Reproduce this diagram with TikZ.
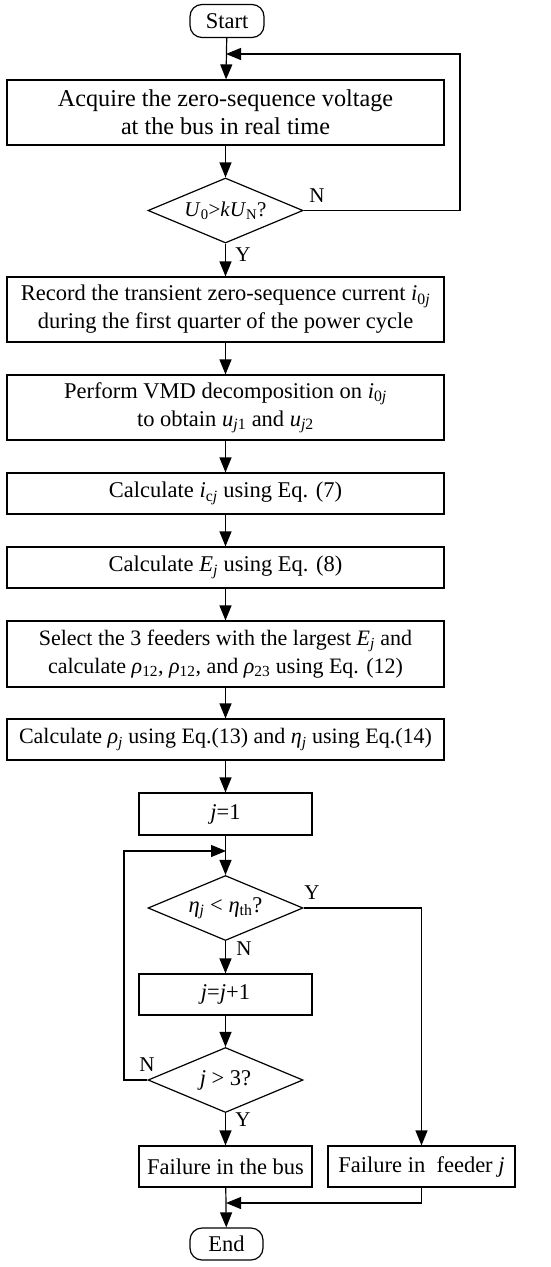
\documentclass[tikz,border=0pt]{standalone}
\usepackage{fontspec}
\setmainfont{Liberation Serif}
\usetikzlibrary{shapes.geometric,arrows.meta}
\newcommand\sbs[1]{\textsubscript{#1}}
\begin{document}
\begin{tikzpicture}[x=1pt,y=-1pt,
  every node/.style={font=\fontsize{22.5}{28}\selectfont},
  procbox/.style={draw,line width=1.2pt,rectangle,inner sep=0pt,align=center},
  termbox/.style={draw,line width=1.2pt,rectangle,rounded corners=12pt,inner sep=0pt,minimum width=74pt,minimum height=33pt},
  decide/.style={draw,line width=1.2pt,diamond,aspect=2.4,inner sep=0pt,minimum width=155pt,minimum height=65pt},
  lbl/.style={font=\fontsize{21}{24}\selectfont,inner sep=0pt},
  arr/.style={line width=1.2pt,-{Triangle[length=15pt,width=12pt]}},
  ln/.style={line width=1.2pt}]
\useasboundingbox (0,0) rectangle (550,1267);
\node[termbox] (start) at (227,21) {Start};
\node[procbox,minimum width=437pt,minimum height=65pt,font=\fontsize{24.2}{28}\selectfont] (b1) at (225.5,112.5) {Acquire the zero-sequence voltage\\at the bus in real time};
\node[decide,font=\fontsize{21}{26}\selectfont] (d1) at (225.5,210.5) {\textit{U}\sbs{0}>\textit{kU}\sbs{N}?};
\node[procbox,minimum width=437pt,minimum height=65pt] (b2) at (225.5,309.5) {Record the transient zero-sequence current \textit{i}\sbs{0\textit{j}}\\during the first quarter of the power cycle};
\node[procbox,minimum width=437pt,minimum height=65pt] (b3) at (225.5,407.5) {Perform VMD decomposition on \textit{i}\sbs{0\textit{j}}\\to obtain \textit{u}\sbs{\textit{j}1} and \textit{u}\sbs{\textit{j}2}};
\node[procbox,minimum width=437pt,minimum height=41pt] (b4) at (225.5,493.5) {Calculate \textit{i}\sbs{c\textit{j}} using Eq. (7)};
\node[procbox,minimum width=437pt,minimum height=41pt] (b5) at (225.5,567.5) {Calculate \textit{E}\sbs{\textit{j}} using Eq. (8)};
\node[procbox,minimum width=437pt,minimum height=66pt,font=\fontsize{22}{28}\selectfont] (b6) at (225.5,654) {Select the 3 feeders with the largest \textit{E}\sbs{\textit{j}} and\\calculate \textit{ρ}\sbs{12}, \textit{ρ}\sbs{12}, and \textit{ρ}\sbs{23} using Eq. (12)};
\node[procbox,minimum width=437pt,minimum height=41pt,font=\fontsize{22}{28}\selectfont] (b7) at (225.5,739.5) {Calculate \textit{ρ}\sbs{\textit{j}} using Eq.(13) and \textit{η}\sbs{\textit{j}} using Eq.(14)};
\node[procbox,minimum width=173pt,minimum height=42pt] (b8) at (225.5,814) {\textit{j}=1};
\node[decide] (d2) at (225.5,908) {\textit{η}\sbs{\textit{j}} < \textit{η}\sbs{th}?};
\node[procbox,minimum width=173pt,minimum height=41pt] (b9) at (225.5,994.5) {\textit{j}=\textit{j}+1};
\node[decide] (d3) at (225.5,1080) {\textit{j} > 3?};
\node[procbox,minimum width=173pt,minimum height=41pt] (bus) at (225.5,1166.5) {Failure in the bus};
\node[procbox,minimum width=187pt,minimum height=41pt] (feed) at (421.5,1166.5) {Failure in\ \ feeder \textit{j}};
\node[termbox,minimum width=73pt,minimum height=32pt] (end) at (226.5,1244) {End};
\coordinate (j1) at (226,54);
\coordinate (r1) at (460,54);
\coordinate (j2) at (226,851);
\coordinate (l2) at (124,851);
\coordinate (j3) at (226,1203);
\draw[arr] (start) -- (b1);
\draw[arr] (d1.east) -| (r1) -- (j1);
\draw[arr] (b1) -- (d1);
\draw[arr] (d1) -- (b2);
\draw[arr] (b2) -- (b3);
\draw[arr] (b3) -- (b4);
\draw[arr] (b4) -- (b5);
\draw[arr] (b5) -- (b6);
\draw[arr] (b6) -- (b7);
\draw[arr] (b7) -- (b8);
\draw[arr] (b8) -- (d2);
\draw[arr] (d3.west) -| (l2) -- (j2);
\draw[arr] (d2.east) -| (feed.north);
\draw[arr] (d2) -- (b9);
\draw[arr] (b9) -- (d3);
\draw[arr] (d3) -- (bus);
\draw[arr] (bus) -- (end);
\draw[arr] (feed.south) |- (j3);
\node[lbl] (n1) at (317,196) {N};
\node[lbl] (y1) at (243,255) {Y};
\node[lbl] (y2) at (312,893) {Y};
\node[lbl] (n2) at (244,949) {N};
\node[lbl] (n3) at (147,1065) {N};
\node[lbl] (y3) at (243,1120) {Y};
\end{tikzpicture}
\end{document}
